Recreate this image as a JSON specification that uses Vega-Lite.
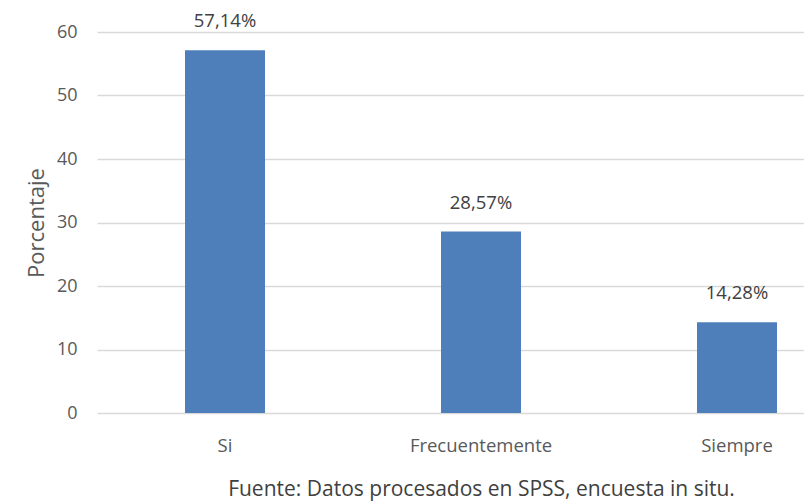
{
  "$schema": "https://vega.github.io/schema/vega-lite/v6.json",
  "width": 768,
  "height": 381,
  "autosize": {"type": "none"},
  "padding": {"left": 97, "top": 32, "right": 0, "bottom": 89},
  "background": "white",
  "config": {
    "font": "Open Sans",
    "view": {"stroke": null},
    "axis": {"labelFont": "Open Sans", "titleFont": "Open Sans"}
  },
  "data": {
    "values": [
      {"categoria": "Si", "porcentaje": 57.14, "etiqueta": "57,14%"},
      {"categoria": "Frecuentemente", "porcentaje": 28.57, "etiqueta": "28,57%"},
      {"categoria": "Siempre", "porcentaje": 14.28, "etiqueta": "14,28%"}
    ]
  },
  "encoding": {
    "x": {
      "field": "categoria",
      "type": "nominal",
      "sort": null,
      "scale": {"paddingInner": 0, "paddingOuter": 0},
      "axis": {
        "title": "Fuente: Datos procesados en SPSS, encuesta in situ.",
        "titleFontSize": 21,
        "titleFontWeight": "normal",
        "titleColor": "#404040",
        "titlePadding": 24,
        "labelAngle": 0,
        "labelFontSize": 18.5,
        "labelColor": "#595959",
        "labelPadding": 23,
        "domain": false,
        "ticks": false
      }
    },
    "y": {
      "field": "porcentaje",
      "type": "quantitative",
      "scale": {"domain": [0, 60]},
      "axis": {
        "title": "Porcentaje",
        "titleFontSize": 22,
        "titleFontWeight": "normal",
        "titleColor": "#595959",
        "titlePadding": 8,
        "values": [0, 10, 20, 30, 40, 50, 60],
        "labelOverlap": false,
        "labelFontSize": 18,
        "labelColor": "#595959",
        "labelPadding": 20,
        "domain": false,
        "ticks": false,
        "gridColor": "#d9d9d9",
        "gridWidth": 1.5
      }
    }
  },
  "layer": [
    {
      "mark": {"type": "bar", "color": "#4f7fba", "width": {"band": 0.3125}}
    },
    {
      "mark": {"type": "text", "baseline": "middle", "dy": -29, "fontSize": 18.5, "color": "#404040"},
      "encoding": {"text": {"field": "etiqueta"}}
    }
  ]
}
